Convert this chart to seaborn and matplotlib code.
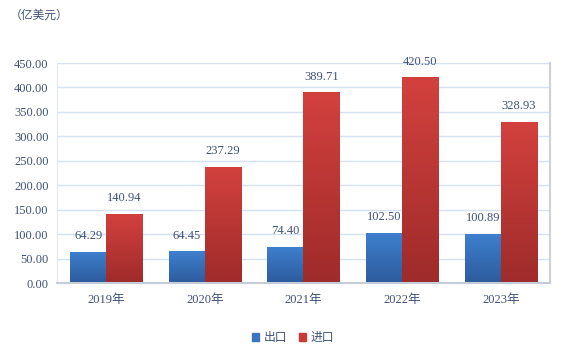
import matplotlib
matplotlib.use('Agg')
import matplotlib.pyplot as plt
import numpy as np
import pandas as pd
import seaborn as sns
from matplotlib.colors import LinearSegmentedColormap

years = ['2019年', '2020年', '2021年', '2022年', '2023年']
export_vals = [64.29, 64.45, 74.40, 102.50, 100.89]
import_vals = [140.94, 237.29, 389.71, 420.50, 328.93]
series = ['出口', '进口']

df = pd.DataFrame({
    'year': years * 2,
    'value': export_vals + import_vals,
    'kind': [series[0]] * len(years) + [series[1]] * len(years),
})

sns.set_style('white')
plt.rcParams['font.family'] = ['Liberation Serif', 'Noto Sans CJK SC', 'DejaVu Sans']
text_color = '#3F5275'

fig = plt.figure(figsize=(5.63, 3.52), dpi=100)
ax = fig.add_axes([0.101, 0.196, 0.876, 0.625])

palette = {'出口': '#3A74C0', '进口': '#C83A37'}
sns.barplot(data=df, x='year', y='value', hue='kind', palette=palette,
            width=0.73, ax=ax, legend=False, saturation=1)

# gradient fill on bars
grads = {
    '出口': LinearSegmentedColormap.from_list('b', ['#2C5B9C', '#3F80CF']),
    '进口': LinearSegmentedColormap.from_list('r', ['#9E2B2A', '#D3413E']),
}
grad = np.linspace(0, 1, 256).reshape(-1, 1)
for i, bar in enumerate(ax.patches):
    kind = series[0] if i < len(years) else series[1]
    x0, y0 = bar.get_x(), bar.get_y()
    w, h = bar.get_width(), bar.get_height()
    im = ax.imshow(grad, extent=[x0, x0 + w, y0, y0 + h], origin='lower',
                   cmap=grads[kind], aspect='auto', zorder=bar.get_zorder())
    im.set_clip_path(bar)
    bar.set_edgecolor('none')
ax.set_xlim(-0.5, len(years) - 0.5)
ax.set_ylim(0, 450)

for c in ax.containers:
    ax.bar_label(c, fmt='%.2f', padding=7, fontsize=9, color=text_color)

ax.set_yticks(np.arange(0, 451, 50))
ax.yaxis.set_major_formatter(matplotlib.ticker.FormatStrFormatter('%.2f'))
ax.grid(axis='y', color='#D6E2F2', linewidth=1)
ax.set_axisbelow(True)
ax.tick_params(axis='both', length=0, labelsize=9, colors=text_color, pad=6)
ax.tick_params(axis='x', pad=8)
ax.set_xlabel('')
ax.set_ylabel('')
ax.spines['top'].set_visible(False)
ax.spines['right'].set_color('#D0D0D0')
ax.spines['right'].set_linewidth(1.5)
ax.spines['left'].set_color('#E4E9F0')
ax.spines['bottom'].set_color('#C4CCD8')
ax.spines['bottom'].set_linewidth(1.5)

fig.text(0.018, 0.955, '（亿美元）', fontsize=8.5, color=text_color, va='center')

handles = [plt.Rectangle((0, 0), 1, 1, color=palette[s]) for s in series]
fig.legend(handles, series, loc='center', bbox_to_anchor=(0.52, 0.04), ncol=2,
           frameon=False, fontsize=8.5, labelcolor=text_color,
           handlelength=0.6, handleheight=0.6, handletextpad=0.4, columnspacing=1.0)

fig.savefig('out.png', dpi=100)
